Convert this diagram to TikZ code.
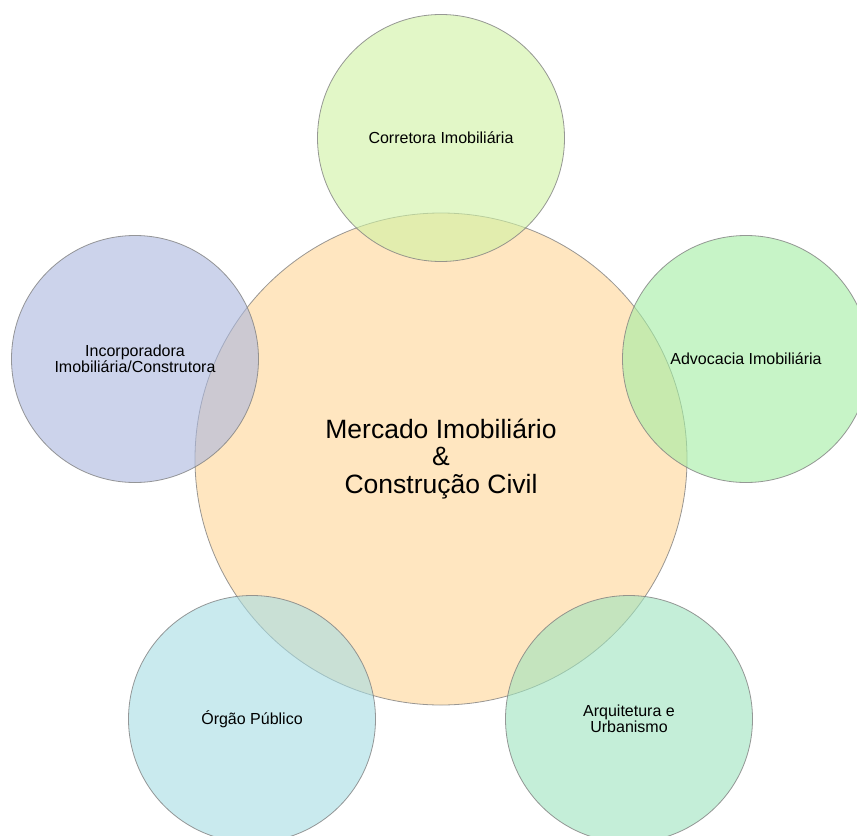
\documentclass[tikz,border=0pt]{standalone}
\usepackage{fontspec}
\setmainfont{Liberation Sans}
\definecolor{hubfill}{RGB}{255,230,192}
\definecolor{cTop}{RGB}{207,243,163}
\definecolor{cAdv}{RGB}{163,238,163}
\definecolor{cArq}{RGB}{158,228,190}
\definecolor{cOrg}{RGB}{165,220,227}
\definecolor{cInc}{RGB}{170,183,223}
\definecolor{edge}{RGB}{128,128,128}
\begin{document}
\begin{tikzpicture}[x=1bp,y=-1bp,
  hub/.style={circle, inner sep=0pt, minimum size=492bp, fill=hubfill, draw=edge, draw opacity=0.8, line width=0.8bp, align=center, font=\fontsize{26.5bp}{27.5bp}\selectfont},
  sat/.style={circle, inner sep=0pt, minimum size=247bp, fill opacity=0.6, text opacity=1, draw=edge, draw opacity=0.8, line width=0.8bp, align=center, font=\fontsize{16bp}{15.5bp}\selectfont}]
\useasboundingbox (0,0) rectangle (857,836);
\clip (0,0) rectangle (857,836);
\fill[white] (0,0) rectangle (857,836);
\node[hub] (hub) at (441,459) {Mercado Imobiliário\\\&\\Construção Civil};
\node[sat, fill=cTop] (top) at (441,138) {Corretora Imobiliária};
\node[sat, fill=cAdv] (adv) at (746,359) {Advocacia Imobiliária};
\node[sat, fill=cInc] (inc) at (135,359) {Incorporadora\\Imobiliária/Construtora};
\node[sat, fill=cOrg] (org) at (252,719) {Órgão Público};
\node[sat, fill=cArq] (arq) at (629,719) {Arquitetura e\\Urbanismo};
\end{tikzpicture}
\end{document}
